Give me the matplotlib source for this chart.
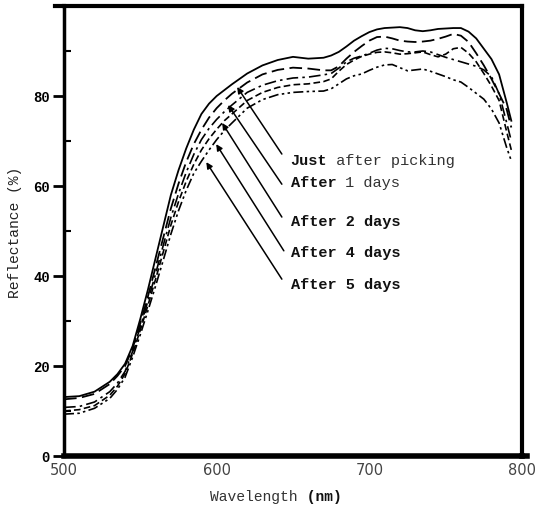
import matplotlib as mpl
mpl.use('Agg')
import matplotlib.pyplot as plt
from matplotlib.lines import Line2D

# wavelength (nm)
wl = [500, 510, 520, 530, 535, 540, 545, 550, 555, 560, 565, 570, 575, 580, 585,
      590, 595, 600, 605, 610, 620, 630, 640, 650, 660, 670, 675, 680, 685, 690,
      695, 700, 705, 710, 715, 720, 725, 730, 735, 740, 745, 750, 755, 760, 765,
      770, 775, 780, 785, 790, 793]

# reflectance (%)
just_picked = [13.1, 13.3, 14.3, 16.5, 18.2, 20.5, 24.5, 30.5, 37.0, 44.0, 51.0, 58.0, 63.5, 68.3, 72.5,
               76.0, 78.3, 80.0, 81.3, 82.6, 85.0, 86.8, 88.0, 88.7, 88.3, 88.5, 89.0, 89.8, 91.0, 92.3,
               93.3, 94.2, 94.8, 95.1, 95.2, 95.3, 95.1, 94.6, 94.4, 94.6, 94.9, 95.0, 95.1, 95.1, 94.3,
               92.8, 90.5, 88.2, 84.8, 78.5, 74.5]
day1 = [12.6, 12.9, 13.8, 16.0, 17.8, 20.0, 24.0, 29.5, 35.5, 42.0, 48.5, 55.0, 60.5, 65.3, 69.3,
        72.5, 75.2, 77.3, 79.0, 80.5, 83.0, 84.8, 85.8, 86.3, 86.1, 85.7, 85.7, 86.6, 88.3, 89.8,
        91.1, 92.3, 93.1, 93.2, 92.8, 92.3, 92.1, 92.0, 92.1, 92.3, 92.7, 93.2, 93.8, 93.4, 92.0,
        89.5, 86.8, 83.8, 80.5, 77.0, 73.0]
day2 = [10.8, 11.0, 12.0, 14.3, 16.2, 18.8, 23.3, 28.7, 34.5, 40.5, 46.8, 53.0, 58.3, 63.0, 67.0,
        70.3, 72.8, 74.8, 76.5, 78.0, 80.8, 82.4, 83.4, 84.0, 84.2, 84.7, 85.0, 86.2, 87.6, 88.4,
        88.9, 89.5, 90.2, 90.6, 90.5, 90.1, 89.8, 89.8, 90.0, 89.8, 89.2, 88.6, 88.1, 87.6, 87.1,
        86.6, 85.8, 84.3, 80.5, 74.0, 70.0]
day4 = [10.0, 10.3, 11.2, 13.5, 15.5, 18.3, 22.8, 28.0, 33.5, 39.3, 45.3, 51.3, 56.5, 61.0, 64.8,
        68.0, 70.5, 72.6, 74.5, 76.0, 79.0, 80.8, 81.9, 82.5, 82.7, 83.2, 83.8, 85.5, 87.0, 88.0,
        88.8, 89.3, 89.7, 89.8, 89.6, 89.3, 89.4, 89.6, 89.8, 89.2, 88.7, 89.3, 90.5, 90.8, 89.5,
        87.6, 85.0, 82.2, 79.0, 72.0, 68.0]
day5 = [9.3, 9.5, 10.6, 12.8, 14.8, 17.5, 22.0, 27.0, 32.3, 37.8, 43.5, 49.3, 54.5, 59.0, 62.8,
        65.5, 68.0, 70.3, 72.3, 74.0, 77.3, 79.2, 80.3, 80.8, 81.0, 81.1, 81.6, 82.7, 83.8, 84.5,
        84.9, 85.7, 86.4, 86.9, 87.0, 86.3, 85.6, 85.8, 86.0, 85.5, 84.9, 84.3, 83.6, 83.1, 81.9,
        80.6, 79.3, 77.1, 74.0, 68.5, 65.6]

labels = [('Just', ' after picking'), ('After', ' 1 days'), ('After 2 days', ''),
          ('After 4 days', ''), ('After 5 days', '')]
arrow_tip = [(613.4, 82.0), (607.5, 78.0), (603.6, 74.0), (599.7, 69.3), (593.2, 65.3)]
arrow_tail = [(642.7, 67.1), (642.7, 60.4), (642.7, 53.1), (644.0, 45.6), (642.7, 39.3)]
label_y = [65.8, 60.9, 52.2, 45.3, 38.2]

mono = 'Liberation Mono'

fig = plt.figure(figsize=(5.36, 5.06), dpi=100)
ax = fig.add_axes([64/536, 1-457/506, 458/536, 450/506])

ax.plot(wl, just_picked, color='k', lw=1.3, ls='-')
ax.plot(wl, day1, color='k', lw=1.3, ls=(0, (7, 3)))
ax.plot(wl, day2, color='k', lw=1.2, ls=(0, (7, 2.5, 1.5, 2.5)))
ax.plot(wl, day4, color='k', lw=1.2, ls=(0, (4, 2)))
ax.plot(wl, day5, color='k', lw=1.2, ls=(0, (6, 2, 1.5, 2, 1.5, 2)))

for (b, n), tip, tail, ly in zip(labels, arrow_tip, arrow_tail, label_y):
    ax.annotate('', xy=tip, xytext=tail,
                arrowprops=dict(arrowstyle='-|>', color='k', lw=1.1,
                                mutation_scale=9, shrinkA=0, shrinkB=0))
    t = ax.text(648.5, ly, b, family=mono, fontweight='bold', fontsize=11,
                va='center', ha='left', color='#111')
    if n:
        ax.annotate(n, xycoords=t, xy=(1, 0), va='bottom', ha='left',
                    family=mono, fontsize=11, color='#333')

ax.set_xlim(500, 798)
ax.set_ylim(0, 100)

ax.set_yticks([0, 20, 40, 60, 80])
ax.set_yticks([10, 30, 50, 70, 90], minor=True)
ax.tick_params(axis='y', which='major', direction='out', length=8, width=2, pad=2)
ax.tick_params(axis='y', which='minor', direction='in', length=5, width=1.5)
for lab in ax.get_yticklabels():
    lab.set_family(mono)
    lab.set_fontweight('bold')
    lab.set_fontsize(10)

ax.set_xticks([500, 600, 700, 800])
ax.set_xticklabels(['500', '600', '700', '800'])
ax.set_xticks([700], minor=True)
ax.tick_params(axis='x', which='major', length=0, pad=4)
ax.tick_params(axis='x', which='minor', direction='in', length=5, width=2)
for lab in ax.get_xticklabels():
    lab.set_family('DejaVu Sans')
    lab.set_fontsize(10.5)
    lab.set_color('#444')

ax.spines['left'].set_linewidth(2.5)
ax.spines['bottom'].set_linewidth(4)
ax.spines['right'].set_linewidth(3)
ax.spines['top'].set_linewidth(3)

# top frame line runs a little past the left spine, bottom one past the right spine
fig.add_artist(Line2D([55/536, 64/536], [1-7/506, 1-7/506], color='k', lw=3))
fig.add_artist(Line2D([522/536, 527/536], [1-457/506, 1-457/506], color='k', lw=4))

fig.text(15/536, 1-232/506, 'Reflectance (%)', rotation=90, family=mono,
         fontsize=10.5, ha='center', va='center', color='#222')
w = fig.text(210/536, 1-497/506, 'Wavelength', family=mono, fontsize=10.5,
             ha='left', va='center', color='#333')
ax.annotate(' (nm)', xycoords=w, xy=(1, 0), va='bottom', ha='left',
            family=mono, fontsize=10.5, fontweight='bold', color='#111')

fig.savefig('out.png', dpi=100)
